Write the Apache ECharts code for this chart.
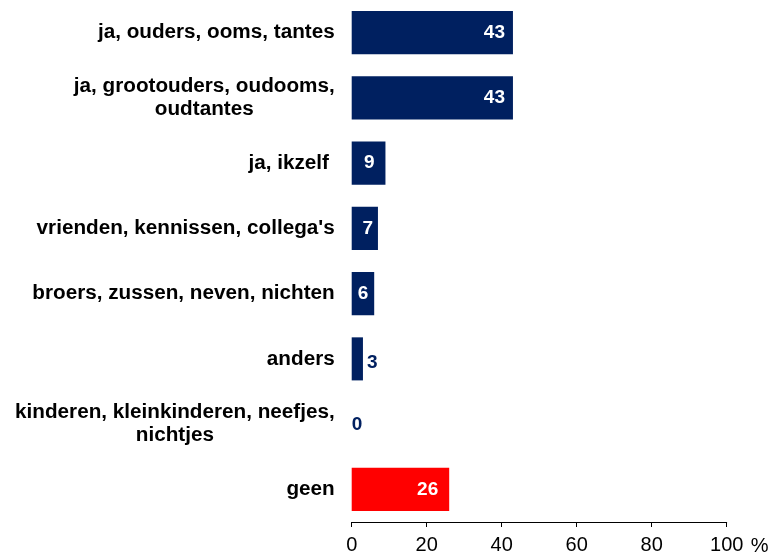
<!DOCTYPE html>
<html>
<head>
<meta charset="utf-8">
<script src="https://cdn.jsdelivr.net/npm/echarts@6/dist/echarts.min.js"></script>
<style>
html,body{margin:0;padding:0;background:#fff;}
#chart{width:772px;height:556px;}
</style>
</head>
<body>
<div id="chart"></div>
<script>
const categories = [
  "ja, ouders, ooms, tantes",
  "ja, grootouders, oudooms,\noudtantes",
  "ja, ikzelf ",
  "vrienden, kennissen, collega's",
  "broers, zussen, neven, nichten",
  "anders",
  "kinderen, kleinkinderen, neefjes,\nnichtjes",
  "geen"
];
const values = [43, 43, 9, 7, 6, 3, 0, 26];
const barColors = ["#002060","#002060","#002060","#002060","#002060","#002060","#002060","#ff0000"];
const xTicks = [0, 20, 40, 60, 80, 100];

const NAVY = "#002060";
const FONT = "Liberation Sans, Arial, sans-serif";
const insideDist = [8, 8, 11, 5, 6, 0, 0, 11];
const data = values.map((v, i) => {
  const inside = v >= 5;
  return {
    value: v,
    itemStyle: { color: barColors[i] },
    label: inside
      ? { position: "insideRight", distance: insideDist[i], color: "#ffffff" }
      : { position: "right", distance: v === 0 ? 0 : 4, color: NAVY, offset: [0, v === 0 ? 1 : 4] }
  };
});

const chart = echarts.init(document.getElementById("chart"));
chart.setOption({
  animation: false,
  backgroundColor: "#ffffff",
  grid: { left: 351.7, right: 45.3, top: -1.5, bottom: 31.5, containLabel: false },
  xAxis: {
    type: "value",
    min: 0, max: 100, interval: 20,
    splitLine: { show: false },
    axisLine: { show: true, lineStyle: { color: "#000", width: 1 } },
    axisTick: { show: true, length: 5, lineStyle: { color: "#000" } },
    axisLabel: {
      margin: 13, color: "#000", fontSize: 20,
      fontFamily: FONT,
      formatter: v => xTicks.includes(v) ? String(v) : ""
    },
    name: "%",
    nameLocation: "end",
    nameGap: 24,
    nameTextStyle: {
      color: "#000", fontSize: 20,
      fontFamily: FONT,
      verticalAlign: "top", align: "left",
      padding: [14, 0, 0, 0]
    }
  },
  yAxis: {
    type: "category",
    inverse: true,
    data: categories,
    axisLine: { show: false },
    axisTick: { show: false },
    axisLabel: {
      margin: 17,
      color: "#000",
      fontSize: 20.7,
      fontWeight: "bold",
      lineHeight: 23,
      fontFamily: FONT,
      formatter: v => v.split("\n").map(l => "{c|" + l + "}").join("\n"),
      rich: {
        c: {
          align: "center", color: "#000", fontSize: 20.7, fontWeight: "bold",
          lineHeight: 23, fontFamily: FONT
        }
      }
    }
  },
  series: [{
    type: "bar",
    data: data,
    barWidth: "66%",
    label: {
      show: true,
      fontSize: 19,
      fontWeight: "bold",
      fontFamily: FONT
    }
  }]
});
</script>
</body>
</html>
